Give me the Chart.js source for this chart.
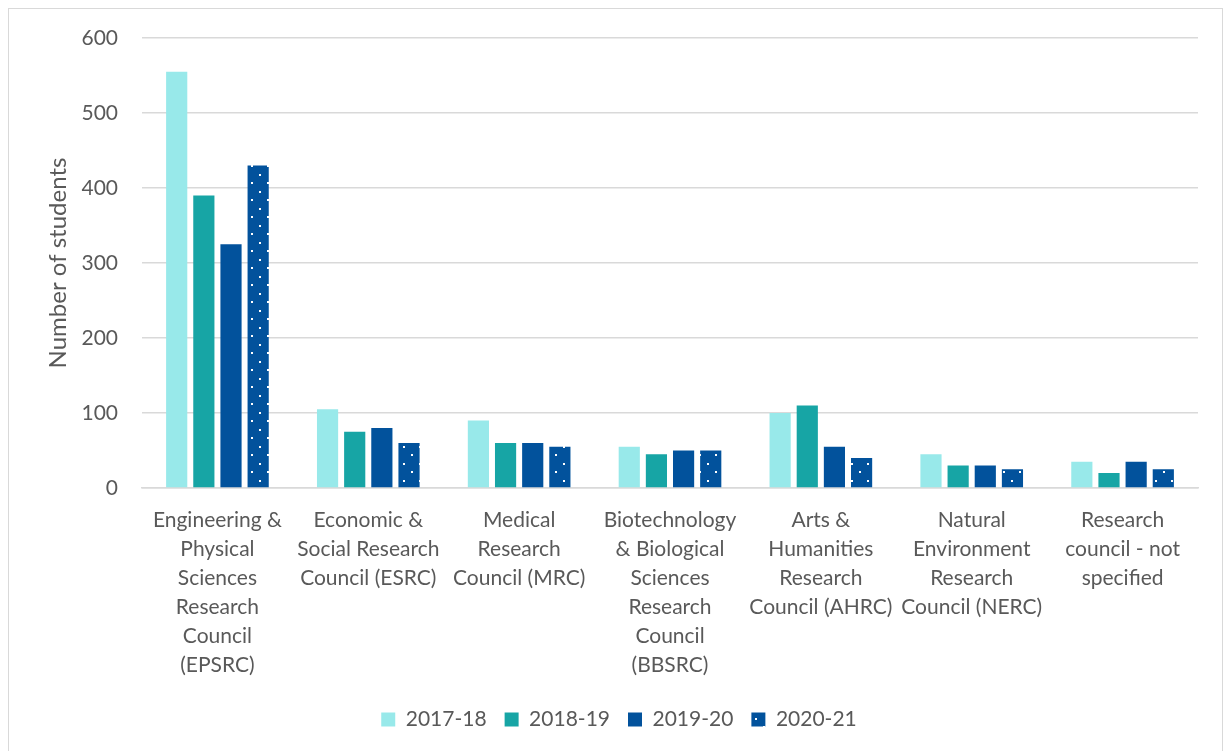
<!DOCTYPE html>
<html>
<head>
<meta charset="utf-8">
<script src="https://cdn.jsdelivr.net/npm/chart.js@4/dist/chart.umd.min.js"></script>
<style>
    html, body { margin: 0; padding: 0; background: #fff; }
    #wrap { position: absolute; left: 0; top: 0; width: 1230px; height: 751px; overflow: hidden; }
    #frame { position: absolute; left: 8px; top: 8px; width: 1213px; height: 770px; border: 1px solid #d9d9d9; }
    #chart { position: absolute; left: 0; top: 0; }
</style>
</head>
<body>
<div id="wrap">
    <div id="frame"></div>
    <canvas id="chart" width="1230" height="751"></canvas>
</div>
<script>
    var categories = [
        ["Engineering &", "Physical", "Sciences", "Research", "Council", "(EPSRC)"],
        ["Economic &", "Social Research", "Council (ESRC)"],
        ["Medical", "Research", "Council (MRC)"],
        ["Biotechnology", "& Biological", "Sciences", "Research", "Council", "(BBSRC)"],
        ["Arts &", "Humanities", "Research", "Council (AHRC)"],
        ["Natural", "Environment", "Research", "Council (NERC)"],
        ["Research", "council - not", "specified"]
    ];
    var seriesNames = ["2017-18", "2018-19", "2019-20", "2020-21"];
    var values_2017_18 = [555, 105, 90, 55, 100, 45, 35];
    var values_2018_19 = [390, 75, 60, 45, 110, 30, 20];
    var values_2019_20 = [325, 80, 60, 50, 55, 30, 35];
    var values_2020_21 = [430, 60, 55, 50, 40, 25, 25];
    var yTicks = [0, 100, 200, 300, 400, 500, 600];

    var textColor = '#595959';
    var fontFamily = 'Lato, "Open Sans", sans-serif';

    // white dots on dark blue, staggered
    function makeDots() {
        var c = document.createElement('canvas');
        c.width = 16; c.height = 17;
        var x = c.getContext('2d');
        x.fillStyle = '#02529c';
        x.fillRect(0, 0, 16, 17);
        x.fillStyle = '#ffffff';
        x.fillRect(3, 4, 2, 2);
        x.fillRect(11, 12, 2, 2);
        return x.createPattern(c, 'repeat');
    }

    var ctx = document.getElementById('chart').getContext('2d');
    var dots = makeDots();

    var chart = new Chart(ctx, {
        type: 'bar',
        data: {
            labels: categories,
            datasets: [
                { label: seriesNames[0], data: values_2017_18, backgroundColor: '#98e9ea' },
                { label: seriesNames[1], data: values_2018_19, backgroundColor: '#17a5a5' },
                { label: seriesNames[2], data: values_2019_20, backgroundColor: '#02529c' },
                { label: seriesNames[3], data: values_2020_21, backgroundColor: dots }
            ]
        },
        options: {
            responsive: false,
            animation: false,
            datasets: {
                bar: { categoryPercentage: 0.72, barPercentage: 0.78 }
            },
            layout: { padding: { left: 40, right: 32, top: 38, bottom: 11 } },
            plugins: {
                tooltip: { enabled: false },
                legend: {
                    position: 'bottom',
                    labels: {
                        boxWidth: 14, boxHeight: 14, padding: 18,
                        color: textColor,
                        font: { family: fontFamily, size: 21, lineHeight: '24px' }
                    }
                }
            },
            scales: {
                x: {
                    afterFit: function (scale) { scale.height -= 7; },
                    grid: { display: false, drawTicks: false },
                    border: { color: '#d9d9d9', width: 1.5 },
                    ticks: {
                        color: textColor, padding: 18, maxRotation: 0, autoSkip: false,
                        font: { family: fontFamily, size: 21, lineHeight: '29px' }
                    }
                },
                y: {
                    min: 0, max: 600,
                    afterBuildTicks: function (scale) {
                        scale.ticks = yTicks.map(function (v) { return { value: v }; });
                    },
                    afterFit: function (scale) { scale.width = 102; },
                    grid: { color: '#d9d9d9', lineWidth: 1.5, drawTicks: false },
                    border: { display: false },
                    ticks: {
                        color: textColor, padding: 24,
                        font: { family: fontFamily, size: 21 }
                    },
                    title: {
                        display: true, text: 'Number of students', color: textColor,
                        font: { family: fontFamily, size: 24 }
                    }
                }
            }
        }
    });
</script>
</body>
</html>
